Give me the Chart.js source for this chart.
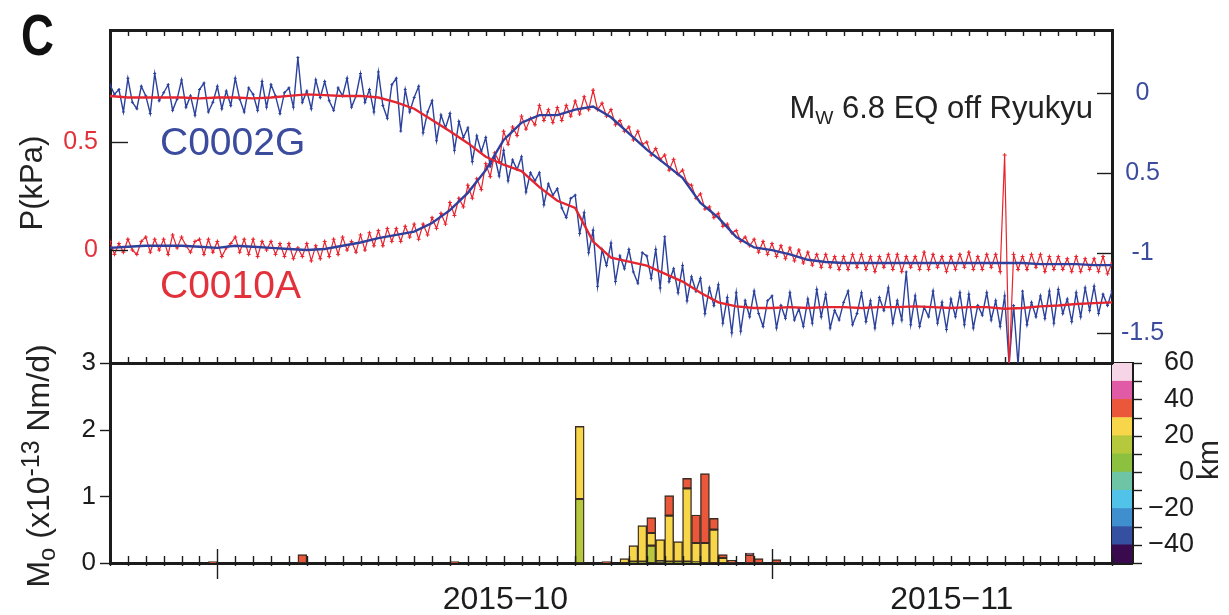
<!DOCTYPE html>
<html><head><meta charset="utf-8">
<script src="https://cdn.jsdelivr.net/npm/chart.js@4.4.1/dist/chart.umd.min.js"></script>
<style>
body{margin:0;background:#fff;}
#wrap{position:relative;width:1229px;height:615px;overflow:hidden;font-family:"Liberation Sans",Arial,Helvetica,sans-serif;background:#fff;}
canvas{position:absolute;left:0;top:0;}
.t{position:absolute;white-space:nowrap;line-height:1;color:#222;}
.rot{transform:translate(-50%,-50%) rotate(-90deg);}
</style></head><body>
<div id="wrap">
<canvas id="cbar" width="1229" height="615"></canvas>
<canvas id="bot" width="1229" height="615"></canvas>
<canvas id="top" width="1229" height="615"></canvas>
<div class="t" style="left:21px;top:7px;font-size:57px;font-weight:bold;transform:scaleX(.8);transform-origin:0 0;color:#111">C</div>
<div class="t" style="left:160px;top:122px;font-size:39px;color:#3b4c9e">C0002G</div>
<div class="t" style="left:160px;top:265px;font-size:39px;color:#e2313b">C0010A</div>
<div class="t" style="right:136px;top:92px;font-size:31px;color:#222">M<span style="font-size:.62em;position:relative;top:.3em">W</span> 6.8 EQ off Ryukyu</div>
<div class="t rot" style="left:31px;top:183px;font-size:31px;color:#222">P(kPa)</div>
<div class="t rot" style="left:38px;top:466px;font-size:32px;color:#222">M<span style="font-size:.75em;position:relative;top:.25em">o</span> (x10<span style="font-size:.78em;position:relative;top:-.4em">-13</span> Nm/d)</div>
<div class="t rot" style="left:1208px;top:460px;font-size:30px;color:#222">km</div>
</div>
<script>
// ---------- DATA ----------
// day 0 = 2015-09-25 00:00; raw pressure sampled every 6 h
const DAY0 = '2015-09-25';
const SAMPLES_PER_DAY = 4;
const X_MIN_DAY = 0, X_MAX_DAY = 56;

// C0002G raw pressure (kPa, right axis), one row of 4 per day
const c0002gRaw = [
 0.05,-0.01,0.02,-0.12, 0.09,-0.06,-0.10,0.04, -0.02,-0.13,0.12,-0.05, 0.00,0.05,-0.11,-0.04,
 0.08,-0.09,-0.02,-0.14, 0.02,0.06,-0.12,-0.06, 0.04,-0.10,0.01,-0.08, 0.09,-0.04,-0.12,0.03,
 -0.01,-0.11,0.07,-0.09, 0.05,-0.02,-0.13,0.00, 0.03,-0.09,0.22,-0.06, 0.01,-0.10,0.08,-0.03,
 0.07,-0.05,-0.11,0.03, -0.02,0.09,-0.09,-0.02, 0.12,-0.06,0.02,-0.12, 0.13,-0.08,-0.16,0.05,
 0.09,-0.24,0.02,-0.12, -0.03,0.04,-0.25,-0.12, -0.05,-0.30,-0.14,-0.22, -0.13,-0.36,-0.18,-0.28,
 -0.22,-0.43,-0.27,-0.37, -0.28,-0.46,-0.40,-0.52, -0.36,-0.55,-0.42,-0.48, -0.40,-0.62,-0.50,-0.55,
 -0.50,-0.70,-0.57,-0.64, -0.60,-0.72,-0.78,-0.66, -0.64,-0.88,-0.75,-1.00, -0.86,-1.21,-0.98,-1.08,
 -0.94,-1.18,-1.02,-1.10, -0.98,-1.12,-1.19,-1.00, -1.02,-1.16,-0.98,-1.22, -0.90,-1.18,-1.10,-1.25,
 -1.08,-1.30,-1.15,-1.24, -1.16,-1.38,-1.22,-1.33, -1.20,-1.44,-1.28,-1.50, -1.25,-1.49,-1.30,-1.40,
 -1.24,-1.38,-1.46,-1.30, -1.27,-1.47,-1.33,-1.41, -1.25,-1.42,-1.35,-1.46, -1.29,-1.44,-1.23,-1.40,
 -1.26,-1.47,-1.36,-1.42, -1.31,-1.24,-1.45,-1.38, -1.25,-1.43,-1.30,-1.47, -1.28,-1.36,-1.22,-1.44,
 -1.30,-1.42,-1.12,-1.45, -1.27,-1.46,-1.34,-1.40, -1.24,-1.44,-1.31,-1.48, -1.29,-1.40,-1.25,-1.45,
 -1.26,-1.47,-1.33,-1.39, -1.25,-1.42,-1.30,-1.46, -1.27,-1.70,-1.33,-1.70, -1.24,-1.45,-1.31,-1.40,
 -1.27,-1.41,-1.24,-1.44, -1.23,-1.38,-1.29,-1.43, -1.25,-1.40,-1.22,-1.36, -1.21,-1.38,-1.26,-1.33,
 -1.24
];
// C0010A raw pressure (kPa, left axis)
const c0010aRaw = [
 0.04,-0.02,0.03,-0.01, 0.05,0.00,-0.02,0.04, 0.06,-0.01,0.05,0.00, 0.05,-0.02,0.07,0.01,
 0.06,0.02,-0.01,0.04, 0.05,-0.02,0.05,-0.01, 0.04,-0.03,0.01,0.03, 0.06,-0.01,0.05,-0.02,
 0.05,-0.03,0.04,0.00, 0.04,-0.02,0.03,-0.03, 0.03,-0.04,0.01,-0.03, 0.03,-0.05,0.02,-0.04,
 0.04,-0.03,0.05,-0.02, 0.06,0.00,0.04,-0.01, 0.07,0.00,0.08,0.02, 0.09,0.02,0.10,0.04,
 0.10,0.04,0.11,0.06, 0.12,0.05,0.12,0.07, 0.15,0.10,0.17,0.12, 0.22,0.16,0.24,0.20,
 0.30,0.24,0.33,0.28, 0.40,0.34,0.45,0.41, 0.55,0.49,0.57,0.53, 0.62,0.56,0.61,0.58,
 0.67,0.60,0.65,0.59, 0.66,0.60,0.67,0.62, 0.69,0.63,0.71,0.65, 0.74,0.65,0.68,0.62,
 0.65,0.58,0.60,0.55, 0.57,0.51,0.55,0.49, 0.50,0.44,0.47,0.42, 0.44,0.37,0.42,0.35,
 0.37,0.31,0.30,0.24, 0.26,0.19,0.20,0.15, 0.17,0.11,0.12,0.08, 0.09,0.04,0.06,0.02,
 0.05,-0.01,0.04,-0.02, 0.03,-0.03,0.02,-0.04, 0.01,-0.05,0.00,-0.06, -0.01,-0.07,-0.02,-0.08,
 -0.02,-0.08,-0.03,-0.09, -0.03,-0.09,-0.02,-0.08, -0.02,-0.09,-0.03,-0.10, -0.03,-0.08,-0.02,-0.09,
 -0.02,-0.10,-0.03,-0.08, -0.03,-0.09,-0.01,-0.09, -0.02,-0.08,-0.03,-0.10, -0.03,-0.09,-0.02,-0.08,
 -0.01,-0.09,-0.03,-0.09, -0.02,-0.08,-0.02,-0.10, 0.44,-0.55,-0.02,-0.09, -0.03,-0.09,-0.02,-0.08,
 -0.02,-0.10,-0.03,-0.09, -0.03,-0.09,-0.04,-0.10, -0.03,-0.10,-0.04,-0.09, -0.04,-0.10,-0.03,-0.11,
 -0.06
];
// daily smoothed traces
const c0002gSmooth = [-0.02,-0.03,-0.03,-0.03,-0.03,-0.035,-0.03,-0.03,-0.035,-0.03,-0.02,-0.01,-0.015,-0.02,-0.02,-0.03,
 -0.06,-0.10,-0.17,-0.24,-0.315,-0.40,-0.45,-0.49,-0.59,-0.675,-0.72,-0.93,-1.03,-1.055,-1.08,-1.13,-1.18,-1.25,-1.31,-1.335,
 -1.345,-1.345,-1.34,-1.345,-1.34,-1.34,-1.345,-1.34,-1.34,-1.335,-1.34,-1.345,-1.34,-1.34,-1.35,-1.345,-1.335,-1.33,-1.32,-1.315,-1.31];
const c0010aSmooth = [0.01,0.015,0.02,0.02,0.02,0.015,0.01,0.02,0.015,0.01,0.005,0.0,0.005,0.02,0.035,0.055,
 0.07,0.085,0.125,0.185,0.265,0.37,0.51,0.59,0.625,0.625,0.65,0.665,0.615,0.54,0.465,0.40,0.335,0.218,0.15,0.06,
 0.012,0.0,-0.02,-0.045,-0.055,-0.06,-0.06,-0.06,-0.06,-0.06,-0.06,-0.06,-0.06,-0.06,-0.06,-0.06,-0.065,-0.065,-0.065,-0.07,-0.07];

// axis ticks
const pLeftTicks = [0, 0.5];
const pRightTicks = [0, -0.5, -1, -1.5];
const pRightTickLabels = ['0', '0.5', '-1', '-1.5'];
const moTicks = [0, 1, 2, 3];
const monthStartDays = [6, 37];            // 2015-10-01, 2015-11-01
const monthLabelDays = [22.1, 47.05];
const monthLabels = ['2015\u221210', '2015\u221211'];

// tremor moment rate, half-day bins (start day), by depth class
const tremorBinStart = [5.5,10.5,19.0,26.0,27.5,28.5,29.0,29.5,30.0,30.5,31.0,31.5,32.0,32.5,33.0,33.5,34.0,34.5,35.5,36.0,37.0];
const mo10to20km = [0,0,0,0.96,0,0,0.02,0.02,0.26,0.03,0.02,0.02,0.02,0.01,0,0,0,0,0,0,0];
const mo20to30km = [0,0,0,1.09,0,0.065,0.24,0.54,0.19,0.32,0.69,0.30,1.10,0.29,0.30,0.50,0.075,0,0,0,0];
const mo30to40km = [0.02,0.125,0.02,0,0.02,0,0,0,0.23,0,0.30,0,0.15,0.42,1.04,0.17,0.05,0.04,0.12,0.065,0.05];
const mo40to50km = [0,0,0,0,0,0,0,0,0,0,0,0,0,0,0,0,0,0,0.03,0,0];

// colour scale (km)
const depthEdges = [-50,-40,-30,-20,-10,0,10,20,30,40,50,60];
const depthColors = ['#3a0a4e','#3550a0','#3f8fcf','#52c3e8','#6ec5a6','#8cc03f','#b6c83b','#f7d64a','#ea573b','#e05aa6','#f6d6e6'];

// ---------- HELPERS ----------
const FONT = '"Liberation Sans", Arial, sans-serif';
const INK = '#1c1c1c';
function fixW(w){ return s => { s.width = w; }; }
function fixH(h){ return s => { s.height = h; }; }
const tickMarks = {
  id: 'tickMarks',
  afterDraw(chart, args, opts) {
    const ctx = chart.ctx, a = chart.chartArea;
    ctx.save();
    ctx.strokeStyle = INK; ctx.lineWidth = 1.4;
    for (const sp of (opts.specs || [])) {
      const s = chart.scales[sp.scale];
      for (const t of s.ticks) {
        const major = sp.major && sp.major.includes(t.value);
        const inn = major ? sp.majorIn : sp.inner, out = major ? sp.majorOut : sp.outer;
        const p = Math.round(s.getPixelForValue(t.value)) + 0.5;
        ctx.beginPath();
        if (sp.edge === 'top')    { ctx.moveTo(p, a.top - out); ctx.lineTo(p, a.top + inn); }
        if (sp.edge === 'bottom') { ctx.moveTo(p, a.bottom + out); ctx.lineTo(p, a.bottom - inn); }
        if (sp.edge === 'left')   { ctx.moveTo(a.left - out, p); ctx.lineTo(a.left + inn, p); }
        if (sp.edge === 'right')  { ctx.moveTo(a.right + out, p); ctx.lineTo(a.right - inn, p); }
        ctx.stroke();
      }
    }
    ctx.restore();
  }
};
const border = { display: true, width: 3, color: INK };
const noGrid = { display: false, drawTicks: false, offset: false };

// ---------- TOP PANEL ----------
const rawPts = arr => arr.map((v, i) => ({ x: X_MIN_DAY + i / SAMPLES_PER_DAY, y: v }));
const dayPts = arr => arr.map((v, i) => ({ x: X_MIN_DAY + i, y: v }));

new Chart(document.getElementById('top'), {
  type: 'line',
  data: { datasets: [
    { label: 'C0002G smoothed', data: dayPts(c0002gSmooth), yAxisID: 'yR', borderColor: '#e3262f', borderWidth: 2.4, pointRadius: 0, order: 1 },
    { label: 'C0010A smoothed', data: dayPts(c0010aSmooth), yAxisID: 'yL', borderColor: '#2f3f9c', borderWidth: 2.4, pointRadius: 0, order: 2 },
    { label: 'C0010A', data: rawPts(c0010aRaw), yAxisID: 'yL', borderColor: '#e8232d', borderWidth: 1.2, pointStyle: 'cross', pointRadius: 2, pointBorderWidth: 1, pointBorderColor: '#e8232d', order: 3 },
    { label: 'C0002G', data: rawPts(c0002gRaw), yAxisID: 'yR', borderColor: '#2b419c', borderWidth: 1.4, pointStyle: 'cross', pointRadius: 1.5, pointBorderWidth: 1, pointBorderColor: '#2b419c', order: 4 }
  ]},
  options: {
    responsive: false, animation: false, devicePixelRatio: 1,
    layout: { padding: { left: 0, right: 0, top: 30, bottom: 252 } },
    plugins: { legend: { display: false }, tooltip: { enabled: false },
      tickMarks: { specs: [
        { scale: 'x', edge: 'bottom', inner: 6, outer: 0 },
        { scale: 'x2', edge: 'top', inner: 6, outer: 0 },
        { scale: 'yL', edge: 'left', inner: 18, outer: 0 },
        { scale: 'yR', edge: 'right', inner: 15, outer: 0 }
      ]}},
    scales: {
      x: { type: 'linear', position: 'bottom', offset: false, min: X_MIN_DAY, max: X_MAX_DAY, ticks: { stepSize: 1, display: false }, grid: noGrid, border, afterFit: fixH(0) },
      x2: { type: 'linear', position: 'top', offset: false, min: X_MIN_DAY, max: X_MAX_DAY, ticks: { stepSize: 1, display: false }, grid: noGrid, border, afterFit: fixH(0) },
      yL: { type: 'linear', position: 'left', min: -0.523, max: 1.019,
        afterBuildTicks: s => { s.ticks = pLeftTicks.map(v => ({ value: v })); },
        ticks: { color: '#e2313b', font: { family: FONT, size: 25 }, padding: 12, autoSkip: false, callback: v => String(v) },
        grid: noGrid, border, afterFit: fixW(110) },
      yR: { type: 'linear', position: 'right', min: -1.689, max: 0.392,
        afterBuildTicks: s => { s.ticks = pRightTicks.map(v => ({ value: v })); },
        ticks: { color: '#3b4c9e', font: { family: FONT, size: 25 }, padding: 9, crossAlign: 'center', autoSkip: false,
          callback: v => pRightTickLabels[pRightTicks.indexOf(v)] },
        grid: noGrid, border, afterFit: fixW(117) }
    }
  },
  plugins: [tickMarks]
});

// ---------- BOTTOM PANEL ----------
const binPts = arr => tremorBinStart.map((d, i) => ({ x: d + 0.25, y: arr[i] }));
const barDs = (label, arr, color) => ({ label, data: binPts(arr), backgroundColor: color, borderColor: '#3a2c22', borderWidth: 1.4, borderSkipped: false, barPercentage: 1, categoryPercentage: 1 });

new Chart(document.getElementById('bot'), {
  type: 'bar',
  data: { datasets: [
    barDs('10–20 km', mo10to20km, depthColors[6]),
    barDs('20–30 km', mo20to30km, depthColors[7]),
    barDs('30–40 km', mo30to40km, depthColors[8]),
    barDs('40–50 km', mo40to50km, depthColors[9])
  ]},
  options: {
    responsive: false, animation: false, devicePixelRatio: 1,
    layout: { padding: { left: 0, right: 117, top: 363, bottom: 0 } },
    plugins: { legend: { display: false }, tooltip: { enabled: false },
      tickMarks: { specs: [
        { scale: 'x', edge: 'bottom', inner: 7, outer: 3, major: monthStartDays, majorIn: 14, majorOut: 16 },
        { scale: 'y', edge: 'left', inner: 0, outer: 10 }
      ]}},
    scales: {
      x: { type: 'linear', position: 'bottom', stacked: true, offset: false, min: X_MIN_DAY, max: X_MAX_DAY, weight: 0,
        ticks: { stepSize: 1, display: false }, grid: noGrid, border, afterFit: fixH(0) },
      xl: { type: 'linear', position: 'bottom', offset: false, min: X_MIN_DAY, max: X_MAX_DAY, weight: 1,
        afterBuildTicks: s => { s.ticks = monthLabelDays.map(v => ({ value: v })); },
        ticks: { color: INK, font: { family: FONT, size: 32 }, padding: 18, maxRotation: 0, autoSkip: false,
          callback: v => monthLabels[monthLabelDays.indexOf(v)] },
        grid: noGrid, border: { display: false }, afterFit: fixH(52) },
      y: { type: 'linear', position: 'left', stacked: true, min: 0, max: 3,
        afterBuildTicks: s => { s.ticks = moTicks.map(v => ({ value: v })); },
        ticks: { color: INK, font: { family: FONT, size: 26 }, padding: 14, autoSkip: false },
        grid: noGrid, border, afterFit: fixW(110) }
    }
  },
  plugins: [tickMarks]
});

// ---------- COLOUR BAR ----------
new Chart(document.getElementById('cbar'), {
  type: 'bar',
  data: { labels: ['depth'], datasets: depthColors.map((c, i) => ({
    label: depthEdges[i] + '–' + depthEdges[i + 1] + ' km',
    data: [[depthEdges[i], depthEdges[i + 1]]], backgroundColor: c, borderWidth: 0,
    grouped: false, barPercentage: 1, categoryPercentage: 1 })) },
  options: {
    responsive: false, animation: false, devicePixelRatio: 1,
    layout: { padding: { left: 1112, right: 35, top: 363, bottom: 52 } },
    plugins: { legend: { display: false }, tooltip: { enabled: false },
      tickMarks: { specs: [ { scale: 'y', edge: 'right', inner: 0, outer: 10 } ] } },
    scales: {
      x: { type: 'category', position: 'bottom', ticks: { display: false }, grid: noGrid, border, afterFit: fixH(0) },
      x2: { type: 'category', position: 'top', labels: ['depth'], ticks: { display: false }, grid: noGrid, border, afterFit: fixH(0) },
      y: { type: 'linear', position: 'right', min: depthEdges[0], max: depthEdges[depthEdges.length - 1],
        ticks: { stepSize: 10, color: INK, font: { family: FONT, size: 27 }, crossAlign: 'far', autoSkip: false,
          callback: v => (v % 20 === 0 ? String(v).replace('-', '\u2212') : '') },
        grid: noGrid, border, afterFit: fixW(62) },
      y2: { type: 'linear', position: 'left', min: depthEdges[0], max: depthEdges[depthEdges.length - 1],
        ticks: { display: false }, grid: noGrid, border, afterFit: fixW(0) }
    }
  },
  plugins: [tickMarks]
});
</script>
</body></html>
